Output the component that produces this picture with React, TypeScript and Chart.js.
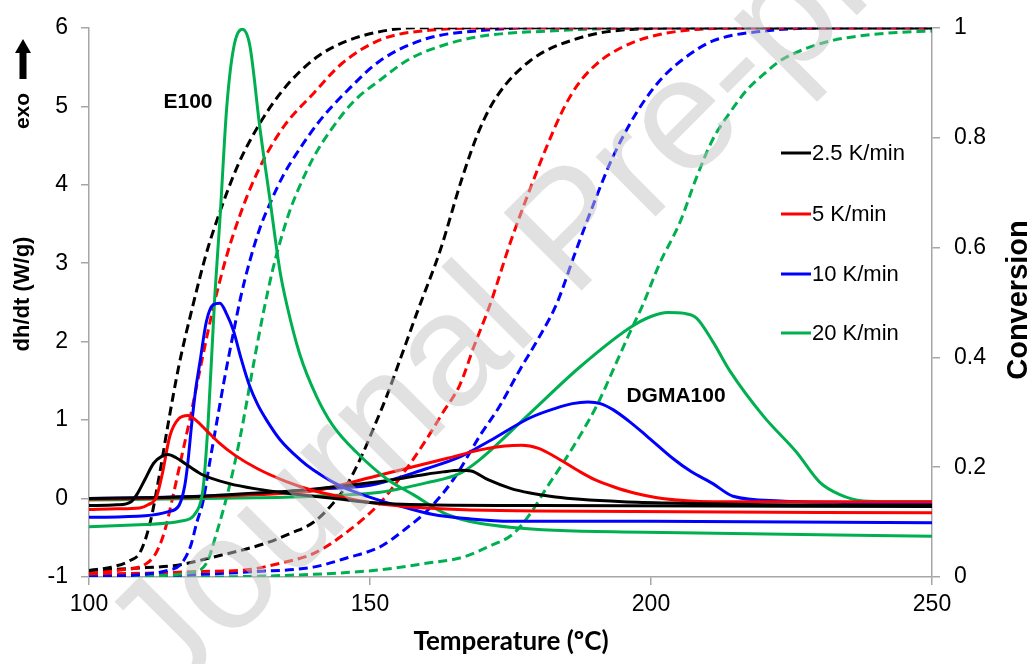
import React, { useEffect, useRef } from "react";
import { Chart, registerables } from "chart.js";

Chart.register(...registerables);

// ---------- categories / labels ----------
const rateLabels = ["2.5 K/min", "5 K/min", "10 K/min", "20 K/min"];
const rateColors = ["#000000", "#FF0000", "#0000FF", "#00B050"];
const xTicks = [100, 150, 200, 250];
const yTicks = [-1, 0, 1, 2, 3, 4, 5, 6];
const y1Ticks = [0, 0.2, 0.4, 0.6, 0.8, 1];

// ---------- E100 heat flow (W/g) ----------
const tHE100_25 = [100, 105, 107.5, 108.5, 110, 111.5, 113, 114, 115.5, 117, 120, 125, 130, 135, 140, 145, 150, 160, 180, 250];
const hE100_25 = [-0.09, -0.08, -0.04, 0.05, 0.25, 0.45, 0.54, 0.56, 0.52, 0.45, 0.31, 0.19, 0.12, 0.07, 0.03, -0.01, -0.05, -0.08, -0.09, -0.1];
const tHE100_5 = [100, 105, 109, 110.5, 112, 113, 114.4, 116, 117.6, 119, 121, 123, 126, 130, 135, 140, 145, 150, 160, 180, 250];
const hE100_5 = [-0.14, -0.13, -0.12, -0.08, 0.02, 0.3, 0.8, 1.02, 1.06, 1.0, 0.86, 0.72, 0.55, 0.38, 0.22, 0.1, 0.02, -0.05, -0.12, -0.16, -0.18];
const tHE100_10 = [100, 110, 114, 116, 117, 117.5, 118.3, 119, 119.7, 120.9, 122.1, 123.3, 124.5, 125.7, 127, 128.6, 130, 131.6, 134, 137.5, 140, 143.4, 146, 149.4, 152, 156, 161, 168, 175, 200, 250];
const hE100_10 = [-0.24, -0.22, -0.17, -0.09, 0.15, 0.4, 0.97, 1.4, 1.72, 2.26, 2.47, 2.49, 2.35, 2.14, 1.8, 1.43, 1.2, 1.0, 0.75, 0.5, 0.36, 0.21, 0.12, 0.03, -0.03, -0.11, -0.2, -0.26, -0.29, -0.29, -0.31];
const tHE100_20 = [100, 110, 116.2, 119.2, 120.3, 121.2, 122.4, 123.3, 124.5, 125.7, 127.3, 128.6, 130.4, 132.2, 134, 135.2, 137.5, 140.5, 143.4, 147.6, 153, 157.7, 163.6, 175.4, 199, 250];
const hE100_20 = [-0.36, -0.33, -0.29, -0.16, 0.13, 0.97, 2.6, 3.56, 4.98, 5.73, 5.98, 5.78, 4.73, 3.81, 2.89, 2.47, 1.84, 1.3, 0.93, 0.59, 0.25, 0.05, -0.2, -0.37, -0.43, -0.48];

// ---------- DGMA100 heat flow (W/g) ----------
const tHD_25 = [100, 110, 120, 130, 140, 150, 155, 160, 163, 166, 168, 171, 175, 178.5, 183, 187.4, 195, 205, 220, 250];
const hD_25 = [0.0, 0.01, 0.03, 0.07, 0.12, 0.2, 0.25, 0.31, 0.34, 0.36, 0.35, 0.24, 0.13, 0.07, 0.02, -0.01, -0.04, -0.06, -0.08, -0.09];
const tHD_5 = [100, 110, 120, 130, 140, 151.8, 163.6, 169.6, 174, 177, 180, 183, 187.4, 190, 193.3, 197, 202, 211, 230, 250];
const hD_5 = [-0.01, 0.0, 0.02, 0.05, 0.1, 0.3, 0.51, 0.62, 0.67, 0.68, 0.64, 0.53, 0.34, 0.24, 0.15, 0.07, 0.0, -0.04, -0.04, -0.04];
const tHD_10 = [100, 110, 120, 130, 140, 150, 160, 166, 171.4, 178.5, 183, 186, 188.8, 191, 193.3, 196, 199.2, 203.9, 207, 211, 214.6, 223, 235, 250];
const hD_10 = [0.0, 0.01, 0.03, 0.06, 0.12, 0.17, 0.38, 0.53, 0.74, 1.03, 1.15, 1.21, 1.23, 1.21, 1.13, 0.99, 0.8, 0.51, 0.35, 0.19, 0.03, -0.03, -0.05, -0.06];
const tHD_20 = [100, 110, 120, 130, 140, 151.8, 160, 166, 169.6, 178.5, 187.4, 196.3, 200, 203, 206, 208.1, 211, 214, 220, 225.9, 230, 233.6, 237.7, 243, 250];
const hD_20 = [-0.02, -0.01, 0.0, 0.01, 0.03, 0.08, 0.2, 0.32, 0.5, 1.09, 1.68, 2.18, 2.32, 2.37, 2.36, 2.3, 2.0, 1.63, 1.05, 0.59, 0.21, 0.05, -0.03, -0.04, -0.04];

// ---------- E100 conversion ----------
const tCE100_25 = [100, 104, 107.3, 109.1, 110.9, 112.6, 114.1, 116, 118.5, 120.9, 123.3, 126.5, 130.4, 134, 137, 141, 145.9, 151.8, 158, 170, 250];
const cE100_25 = [0.012, 0.018, 0.03, 0.045, 0.1, 0.19, 0.28, 0.385, 0.495, 0.59, 0.665, 0.75, 0.826, 0.88, 0.915, 0.95, 0.976, 0.993, 1, 1, 1];
const tCE100_5 = [100, 105, 110.3, 112, 113.5, 115, 116.5, 118, 120, 122.1, 124.5, 126.9, 129, 131.6, 135, 139.9, 145, 151.8, 160, 175, 250];
const cE100_5 = [0.007, 0.012, 0.025, 0.045, 0.085, 0.15, 0.22, 0.29, 0.39, 0.49, 0.585, 0.66, 0.715, 0.77, 0.825, 0.88, 0.935, 0.978, 0.995, 1, 1];
const tCE100_10 = [100, 110, 114, 116.2, 118, 119.2, 120.3, 121.5, 122.7, 124, 125.7, 127, 128.6, 130.4, 132.2, 134.5, 137, 141, 145.9, 151.8, 160, 169.6, 180, 250];
const cE100_10 = [0.0, 0.005, 0.012, 0.022, 0.054, 0.1, 0.138, 0.21, 0.28, 0.355, 0.445, 0.51, 0.575, 0.635, 0.68, 0.73, 0.772, 0.83, 0.885, 0.94, 0.98, 0.995, 1, 1];
const tCE100_20 = [100, 110, 118, 120.9, 122.7, 125.1, 127, 129.5, 131, 132.7, 134, 135.5, 137, 140, 142.9, 147, 151.8, 157, 163.6, 170, 181.4, 200, 250];
const cE100_20 = [0.0, 0.002, 0.008, 0.025, 0.08, 0.17, 0.26, 0.4, 0.48, 0.56, 0.61, 0.66, 0.7, 0.765, 0.812, 0.865, 0.905, 0.943, 0.97, 0.985, 0.994, 1, 1];

// ---------- DGMA100 conversion ----------
const tCD_25 = [100, 108, 116, 122, 131, 136, 140, 143.5, 146, 148.5, 151, 153, 155.5, 158.5, 162.5, 166.5, 169.5, 172.5, 178.5, 187.4, 196.3, 210, 250];
const cD_25 = [0.012, 0.016, 0.022, 0.036, 0.06, 0.08, 0.1, 0.135, 0.17, 0.22, 0.28, 0.33, 0.4, 0.485, 0.595, 0.73, 0.815, 0.874, 0.94, 0.982, 0.997, 1, 1];
const tCD_5 = [100, 110, 120, 128, 134, 140, 145, 151.8, 156, 160, 163, 166, 168.5, 171.4, 175, 178.5, 181.5, 184.4, 187, 190.3, 194, 199.2, 208.1, 220, 250];
const cD_5 = [0.005, 0.007, 0.01, 0.013, 0.025, 0.043, 0.075, 0.135, 0.19, 0.25, 0.3, 0.35, 0.42, 0.497, 0.61, 0.707, 0.785, 0.852, 0.897, 0.934, 0.96, 0.982, 0.997, 1, 1];
const tCD_10 = [100, 115, 130, 139.9, 146, 151.8, 156, 160.7, 165, 169.6, 173, 176.7, 180, 183.2, 186.5, 189.7, 193, 196.3, 199, 202.1, 206, 211, 220, 235, 250];
const cD_10 = [0.0, 0.003, 0.01, 0.018, 0.035, 0.055, 0.085, 0.126, 0.18, 0.258, 0.31, 0.378, 0.435, 0.497, 0.59, 0.677, 0.76, 0.826, 0.87, 0.91, 0.945, 0.976, 0.994, 1, 1];
const tCD_20 = [100, 120, 140, 151.8, 160, 166.5, 171, 175.4, 178.5, 181.4, 184.5, 187.4, 190.5, 193.3, 196, 198.6, 201.5, 205.2, 208, 211, 214, 217, 220, 223, 227, 231.9, 237, 243, 250];
const cD_20 = [0.0, 0.0, 0.005, 0.013, 0.025, 0.036, 0.055, 0.078, 0.115, 0.162, 0.21, 0.258, 0.315, 0.378, 0.44, 0.497, 0.57, 0.647, 0.725, 0.797, 0.845, 0.886, 0.915, 0.94, 0.96, 0.976, 0.985, 0.991, 0.994];

const heatE100 = [[tHE100_25, hE100_25], [tHE100_5, hE100_5], [tHE100_10, hE100_10], [tHE100_20, hE100_20]];
const heatDGMA = [[tHD_25, hD_25], [tHD_5, hD_5], [tHD_10, hD_10], [tHD_20, hD_20]];
const convE100 = [[tCE100_25, cE100_25], [tCE100_5, cE100_5], [tCE100_10, cE100_10], [tCE100_20, cE100_20]];
const convDGMA = [[tCD_25, cD_25], [tCD_5, cD_5], [tCD_10, cD_10], [tCD_20, cD_20]];

const pts = (xs: number[], ys: number[]) => xs.map((x, i) => ({ x, y: ys[i] }));

const AX = "#a6a6a6";
const SANS = "'Liberation Sans', Arial, sans-serif";

const overlayPlugin = {
  id: "overlay",
  afterDraw(chart: any) {
    const ctx = chart.ctx;
    ctx.save();
    // legend
    ctx.font = `22px ${SANS}`;
    ctx.textAlign = "left";
    ctx.textBaseline = "middle";
    const ly = [153, 214, 274, 333];
    rateLabels.forEach((lab, i) => {
      ctx.strokeStyle = rateColors[i];
      ctx.lineWidth = 3;
      ctx.beginPath();
      ctx.moveTo(781, ly[i]);
      ctx.lineTo(811, ly[i]);
      ctx.stroke();
      ctx.fillStyle = "#000";
      ctx.fillText(lab, 812, ly[i] + 1);
    });
    // annotations
    ctx.font = `bold 21px ${SANS}`;
    ctx.textAlign = "center";
    ctx.fillText("E100", 188, 102);
    ctx.fillText("DGMA100", 676, 396);
    // x title
    ctx.font = `bold 26px Lato, 'Open Sans', sans-serif`;
    ctx.fillText("Temperature (ºC)", 511, 642);
    // right title
    ctx.save();
    ctx.translate(1019, 300);
    ctx.rotate(-Math.PI / 2);
    ctx.font = `bold 29px ${SANS}`;
    ctx.fillText("Conversion", 0, 0);
    ctx.restore();
    // left title
    ctx.save();
    ctx.translate(23, 294);
    ctx.rotate(-Math.PI / 2);
    ctx.font = `bold 22px ${SANS}`;
    ctx.fillText("dh/dt (W/g)", 0, 0);
    ctx.restore();
    ctx.save();
    ctx.translate(23, 111);
    ctx.rotate(-Math.PI / 2);
    ctx.font = `bold 21px ${SANS}`;
    ctx.fillText("exo", 0, 0);
    ctx.restore();
    // arrow pointing up
    ctx.fillStyle = "#000";
    ctx.beginPath();
    ctx.moveTo(19.5, 79);
    ctx.lineTo(26.5, 79);
    ctx.lineTo(26.5, 53);
    ctx.lineTo(31, 53);
    ctx.lineTo(23, 39);
    ctx.lineTo(15, 53);
    ctx.lineTo(19.5, 53);
    ctx.closePath();
    ctx.fill();
    // watermark
    ctx.save();
    ctx.translate(150, 640);
    ctx.rotate(-Math.PI / 4);
    ctx.font = `160px ${SANS}`;
    ctx.textAlign = "left";
    ctx.textBaseline = "alphabetic";
    ctx.fillStyle = "rgba(196,196,196,0.5)";
    ctx.fillText("Journal Pre-proof", -30, 58);
    ctx.restore();
    ctx.restore();
  },
};

export default function App() {
  const ref = useRef<HTMLCanvasElement | null>(null);
  useEffect(() => {
    if (!ref.current) return;
    const datasets: any[] = [];
    const addSet = (arr: any[], axis: string, dashed: boolean) => {
      arr.forEach(([xs, ys], i) => {
        datasets.push({
          data: pts(xs, ys),
          yAxisID: axis,
          borderColor: rateColors[i],
          borderWidth: 3,
          borderDash: dashed ? [9, 5] : [],
          pointRadius: 0,
          fill: false,
          cubicInterpolationMode: "monotone",
        });
      });
    };
    addSet(heatE100, "y", false);
    addSet(heatDGMA, "y", false);
    addSet(convE100, "y1", true);
    addSet(convDGMA, "y1", true);

    const gridCfg = { drawOnChartArea: false, drawTicks: true, tickLength: 8, color: AX, lineWidth: 1.5 };
    const chart = new Chart(ref.current, {
      type: "line",
      data: { datasets },
      plugins: [overlayPlugin],
      options: {
        animation: false,
        responsive: true,
        maintainAspectRatio: false,
        layout: { padding: { top: 20, left: 0, right: 0, bottom: 0 } },
        plugins: { legend: { display: false }, tooltip: { enabled: false } },
        scales: {
          x: {
            type: "linear",
            min: 100,
            max: 250,
            afterBuildTicks: (s: any) => { s.ticks = xTicks.map((v) => ({ value: v })); },
            afterFit: (s: any) => { s.height = 87; },
            ticks: { font: { family: SANS, size: 23 }, color: "#000", padding: 6, maxRotation: 0, autoSkip: false },
            grid: gridCfg,
            border: { color: AX, width: 1.5 },
          },
          y: {
            type: "linear",
            position: "left",
            min: -1,
            max: 6,
            afterBuildTicks: (s: any) => { s.ticks = yTicks.map((v) => ({ value: v })); },
            afterFit: (s: any) => { s.width = 89; },
            ticks: { font: { family: SANS, size: 23 }, color: "#000", padding: 13 },
            grid: gridCfg,
            border: { color: AX, width: 1.5 },
          },
          y1: {
            type: "linear",
            position: "right",
            min: 0,
            max: 1,
            afterBuildTicks: (s: any) => { s.ticks = y1Ticks.map((v) => ({ value: v })); },
            afterFit: (s: any) => { s.width = 99; },
            ticks: {
              font: { family: SANS, size: 23 },
              color: "#000",
              padding: 14,
              callback: (v: any) => String(Math.round(Number(v) * 10) / 10),
            },
            grid: gridCfg,
            border: { color: AX, width: 1.5 },
          },
        },
      } as any,
    });
    return () => chart.destroy();
  }, []);
  return (
    <div style={{ position: "fixed", left: 0, top: 0, width: 1031, height: 664, background: "#fff" }}>
      <canvas ref={ref} />
    </div>
  );
}
